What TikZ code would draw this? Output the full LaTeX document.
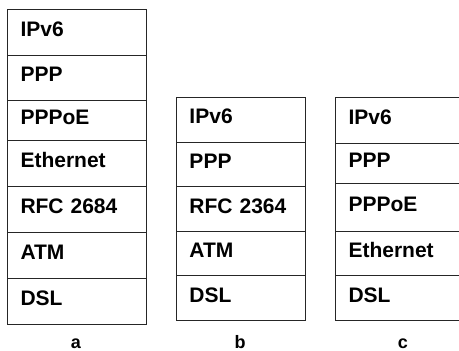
\documentclass[tikz,border=0pt]{standalone}
\usepackage{fontspec}
\setmainfont{Liberation Sans}
\begin{document}
\begin{tikzpicture}[x=1pt,y=-1pt,
  layer/.style={draw=black!85, line width=1pt, anchor=north west, inner xsep=13pt, inner ysep=0pt,
    align=left, text height=15pt, text depth=7pt,
    font=\fontsize{21}{25}\selectfont\bfseries},
  stacklabel/.style={anchor=base, font=\fontsize{18}{22}\selectfont\bfseries}]
\useasboundingbox (0,0) rectangle (459,351);
% stack a
\node[layer, text width=113pt, minimum height=46pt]   (a1) at (7,8.5)  {IPv6};
\node[layer, text width=113pt, minimum height=45.5pt] (a2) at (7,54.5) {PPP};
\node[layer, text width=113pt, minimum height=40pt]   (a3) at (7,100)  {PPPoE};
\node[layer, text width=113pt, minimum height=46pt]   (a4) at (7,140)  {Ethernet};
\node[layer, text width=113pt, minimum height=46pt]   (a5) at (7,186)  {RFC 2684};
\node[layer, text width=113pt, minimum height=46pt]   (a6) at (7,232)  {ATM};
\node[layer, text width=113pt, minimum height=46pt]   (a7) at (7,278)  {DSL};
% stack b
\node[layer, text width=103pt, minimum height=44.6pt] (b1) at (176,97)    {IPv6};
\node[layer, text width=103pt, minimum height=44.6pt] (b2) at (176,141.6) {PPP};
\node[layer, text width=103pt, minimum height=44.6pt] (b3) at (176,186.2) {RFC 2364};
\node[layer, text width=103pt, minimum height=44.6pt] (b4) at (176,230.8) {ATM};
\node[layer, text width=103pt, minimum height=44.6pt] (b5) at (176,275.4) {DSL};
% stack c (its right border lies just beyond the page edge)
\node[layer, text width=100pt, minimum height=46pt] (c1) at (335,97)  {IPv6};
\node[layer, text width=100pt, minimum height=40pt] (c2) at (335,143) {PPP};
\node[layer, text width=100pt, minimum height=48pt] (c3) at (335,183) {PPPoE};
\node[layer, text width=100pt, minimum height=44pt] (c4) at (335,231) {Ethernet};
\node[layer, text width=100pt, minimum height=45pt] (c5) at (335,275) {DSL};
% captions
\node[stacklabel] (la) at (76,348)  {a};
\node[stacklabel] (lb) at (240,348) {b};
\node[stacklabel] (lc) at (403,348) {c};
\end{tikzpicture}
\end{document}
